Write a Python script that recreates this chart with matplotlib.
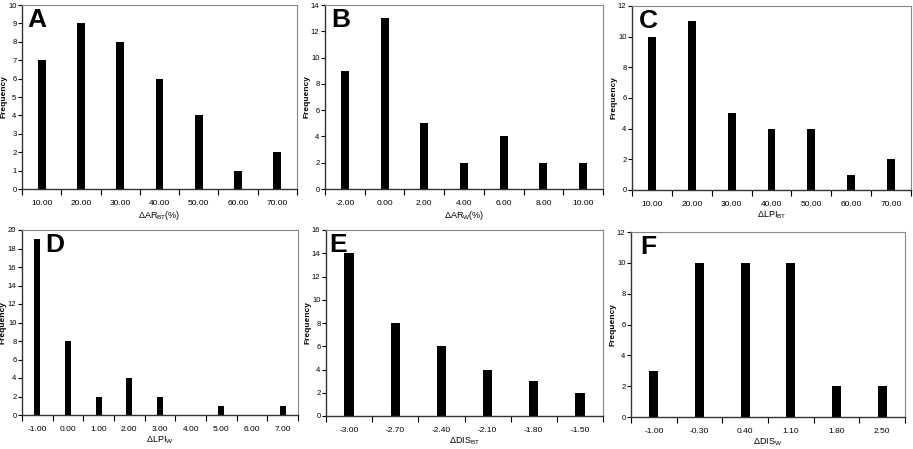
import matplotlib
matplotlib.use("Agg")
import matplotlib.pyplot as plt
import numpy as np

plt.rcParams['font.family'] = ['Liberation Sans', 'DejaVu Sans']
plt.rcParams['mathtext.fontset'] = 'custom'
plt.rcParams['mathtext.rm'] = 'Liberation Sans'

# Data
cats_A = ["10.00", "20.00", "30.00", "40.00", "50.00", "60.00", "70.00"]
vals_A = [7, 9, 8, 6, 4, 1, 2]
cats_B = ["-2.00", "0.00", "2.00", "4.00", "6.00", "8.00", "10.00"]
vals_B = [9, 13, 5, 2, 4, 2, 2]
cats_C = ["10.00", "20.00", "30.00", "40.00", "50.00", "60.00", "70.00"]
vals_C = [10, 11, 5, 4, 4, 1, 2]
cats_D = ["-1.00", "0.00", "1.00", "2.00", "3.00", "4.00", "5.00", "6.00", "7.00"]
vals_D = [19, 8, 2, 4, 2, 0, 1, 0, 1]
cats_E = ["-3.00", "-2.70", "-2.40", "-2.10", "-1.80", "-1.50"]
vals_E = [14, 8, 6, 4, 3, 2]
cats_F = ["-1.00", "-0.30", "0.40", "1.10", "1.80", "2.50"]
vals_F = [3, 10, 10, 10, 2, 2]

xlabels = [r"$\Delta$AR$_{\mathregular{BT}}$(%)", r"$\Delta$AR$_{\mathregular{W}}$(%)",
           r"$\Delta$LPI$_{\mathregular{BT}}$", r"$\Delta$LPI$_{\mathregular{W}}$",
           r"$\Delta$DIS$_{\mathregular{BT}}$", r"$\Delta$DIS$_{\mathregular{W}}$"]
letters = ["A", "B", "C", "D", "E", "F"]
ymaxes = [10, 14, 12, 20, 16, 12]
ysteps = [1, 2, 2, 2, 2, 2]

panels = [(cats_A, vals_A), (cats_B, vals_B), (cats_C, vals_C),
          (cats_D, vals_D), (cats_E, vals_E), (cats_F, vals_F)]

W, H = 913, 449
# axes boxes in pixels: left, top, right, bottom
boxes = [(22, 5, 297, 189), (325, 5, 603, 189), (632, 6, 911, 190),
         (22, 230, 298, 415), (326, 230, 603, 416), (631, 232, 905, 417)]
# letter left offsets in pixels from axes left
letter_dx = [5, 6, 7, 23, 3, 9]

fig = plt.figure(figsize=(W / 100, H / 100), dpi=100)

for i, ((cats, vals), box) in enumerate(zip(panels, boxes)):
    l, t, r, b = box
    w, h = r - l, b - t
    ax = fig.add_axes([l / W, 1 - b / H, w / W, h / H])
    n = len(cats)
    x = np.arange(n)
    ax.bar(x, vals, width=0.2, color='black')
    ax.set_xlim(-0.5, n - 0.5)
    ax.set_ylim(0, ymaxes[i])
    ax.set_yticks(np.arange(0, ymaxes[i] + 0.1, ysteps[i]))
    ax.tick_params(axis='y', labelsize=5.5, length=3, width=0.8, direction='out', pad=1)
    ax.set_xticks(x)
    ax.set_xticklabels(cats, fontsize=6)
    ax.tick_params(axis='x', length=0, pad=8)
    ax.set_xticks(np.arange(-0.5, n, 1.0), minor=True)
    ax.tick_params(axis='x', which='minor', length=4, width=0.8, direction='out')
    for s in ['top', 'right']:
        ax.spines[s].set_color('#888888')
        ax.spines[s].set_linewidth(0.8)
    for s in ['left', 'bottom']:
        ax.spines[s].set_color('#333333')
        ax.spines[s].set_linewidth(1.0)
    ax.set_ylabel("Frequency", fontsize=6, fontweight='bold')
    ax.yaxis.set_label_coords(-15 / w, 0.5)
    ax.set_xlabel(xlabels[i], fontsize=6.5, labelpad=1)
    ax.text(letter_dx[i] / w, 0.985, letters[i], transform=ax.transAxes, fontsize=19,
            fontweight='bold', va='top', ha='left')

fig.savefig("out.png", dpi=100)
